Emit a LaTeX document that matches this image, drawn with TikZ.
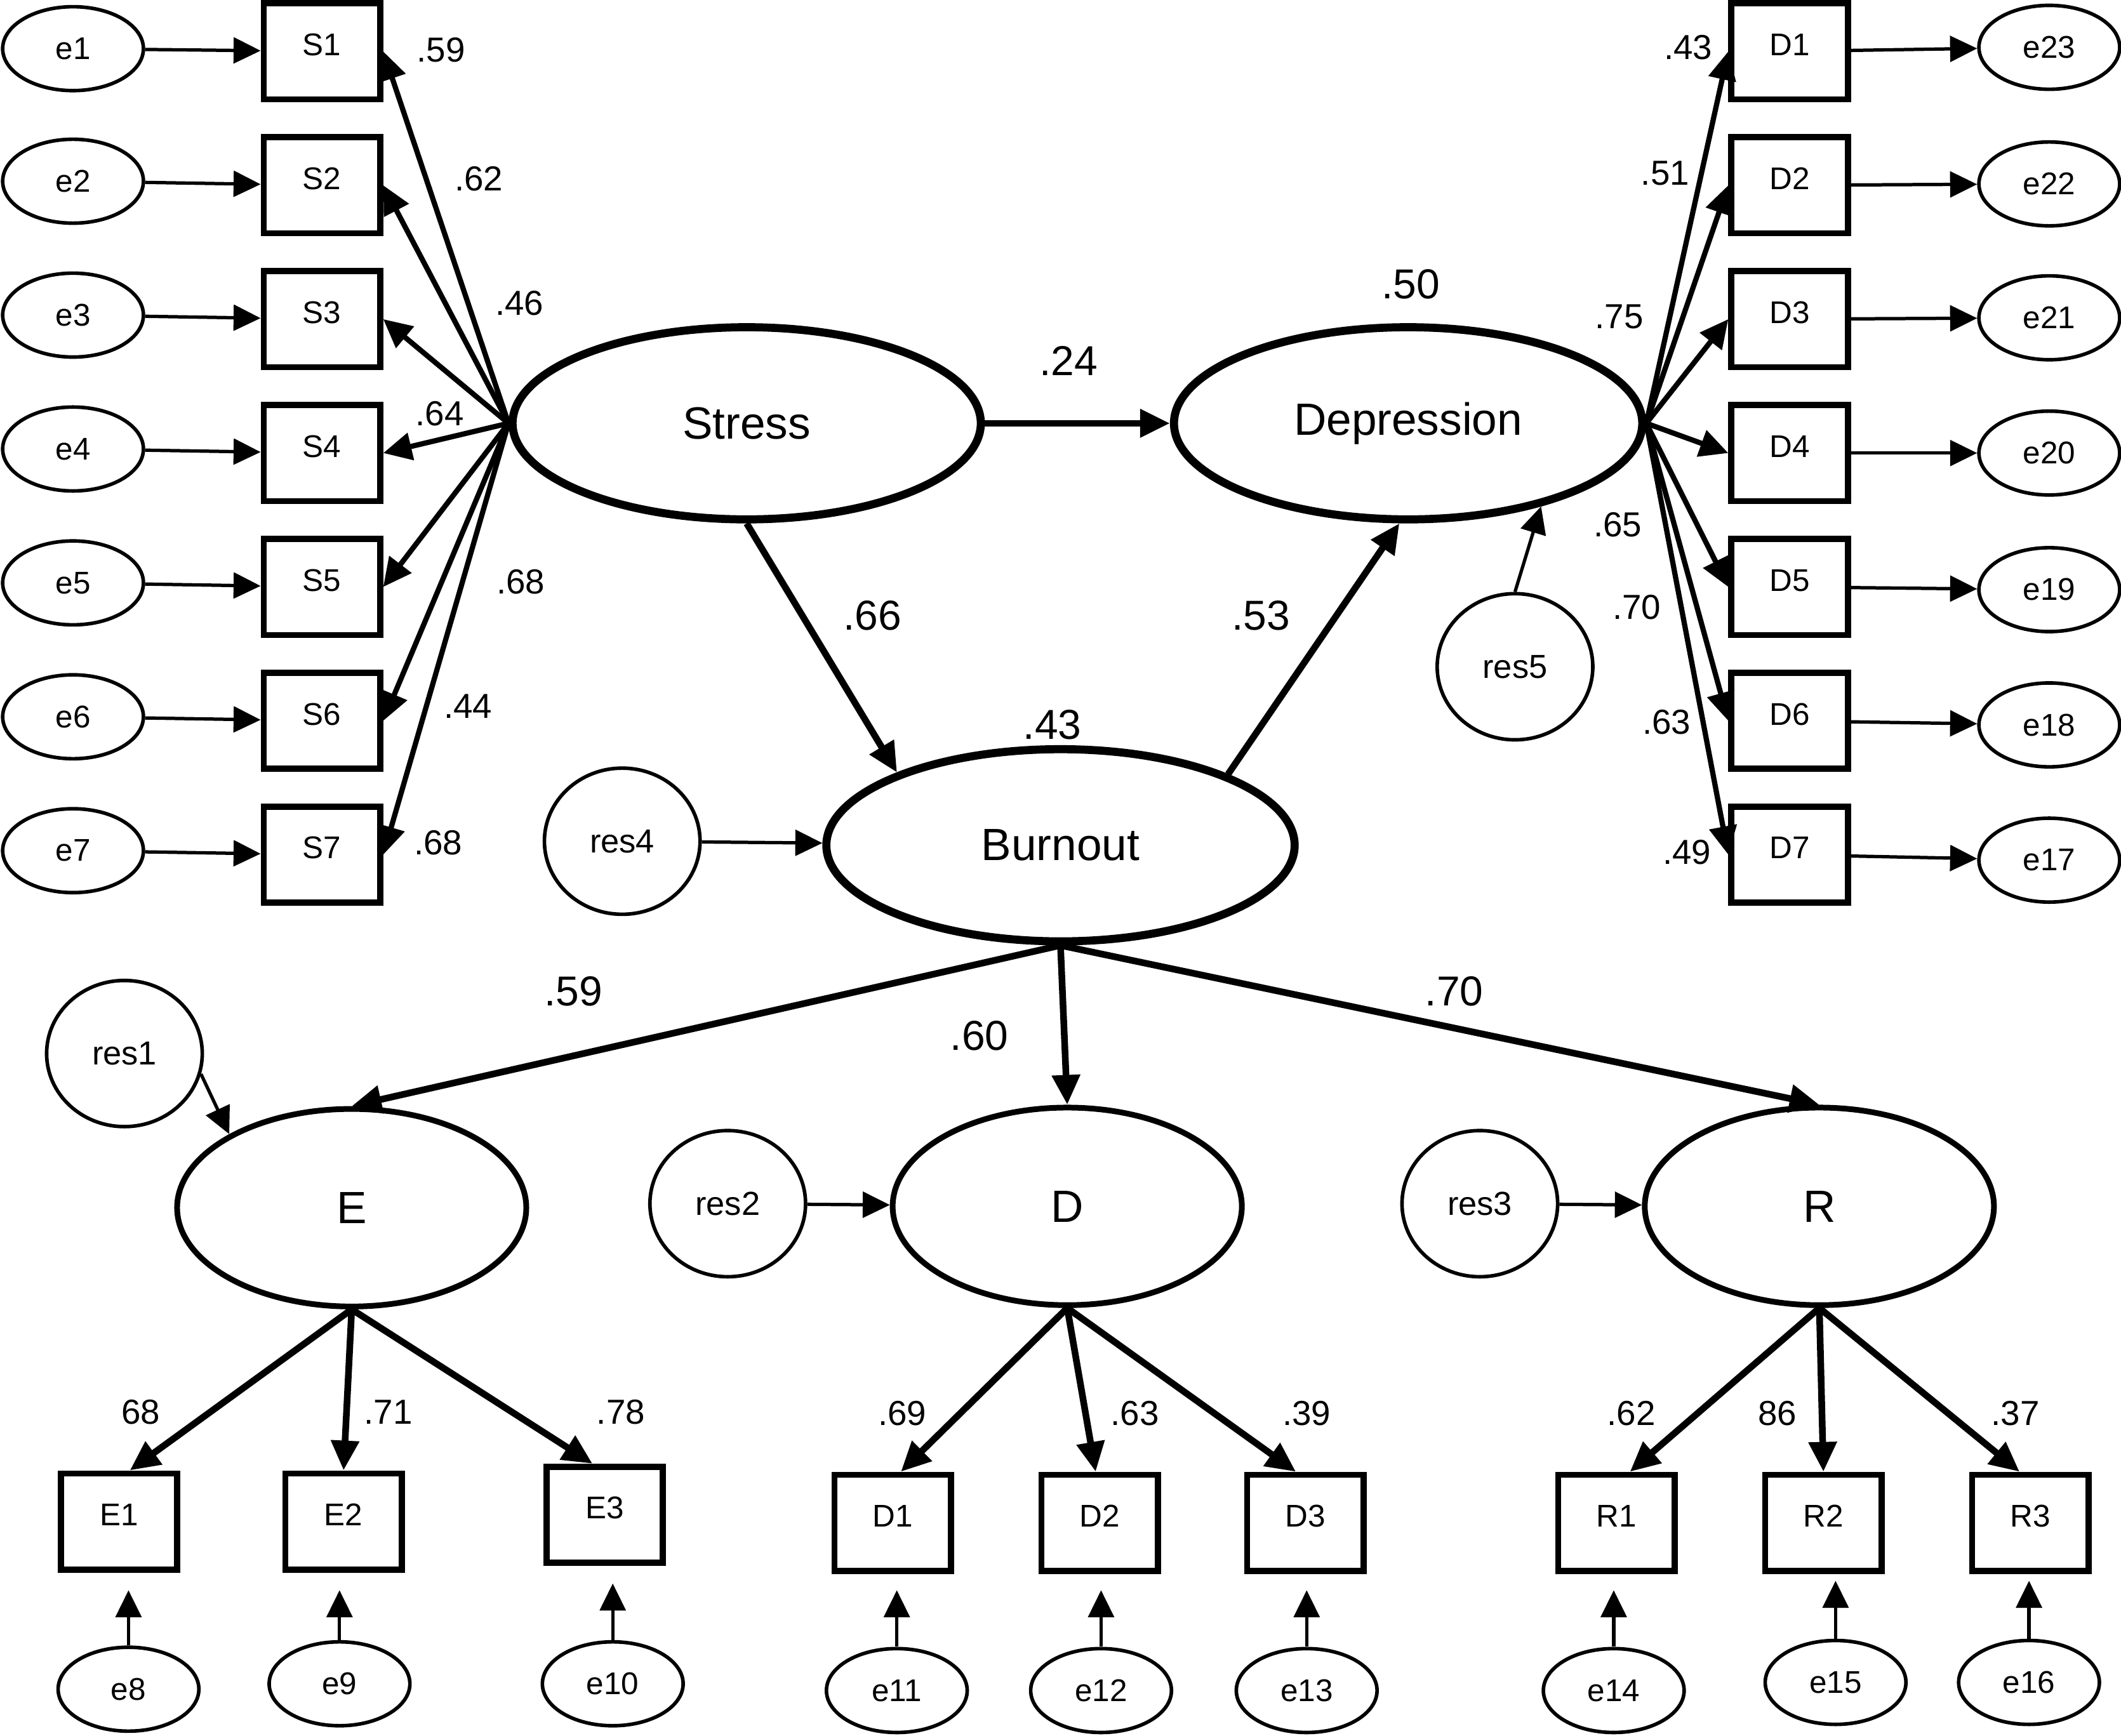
\documentclass[tikz,border=0pt]{standalone}
\usepackage{fontspec}
\setmainfont{Liberation Sans}
\usepackage{tikz}
\usetikzlibrary{calc}
\usetikzlibrary{shapes,arrows,arrows.meta,positioning}
\tikzstyle{obs} = [rectangle, draw, line width=1.3pt, text height=1.7mm, text depth=1.1mm,
    minimum width=0.86cm, minimum height=0.71cm, inner sep=0pt, font=\fontsize{6.6}{8}\selectfont]
\tikzstyle{err} = [ellipse, draw, line width=0.75pt,
    minimum width=1.04cm, minimum height=0.62cm, inner sep=0pt, font=\fontsize{6.6}{8}\selectfont]
\tikzstyle{res} = [ellipse, draw, line width=0.75pt,
    minimum width=1.15cm, minimum height=1.08cm, inner sep=0pt, font=\fontsize{7}{8}\selectfont]
\tikzstyle{latent} = [ellipse, draw, line width=1.7pt,
    minimum width=3.46cm, minimum height=1.42cm, inner sep=0pt, font=\fontsize{9.5}{11}\selectfont]
\tikzstyle{facet} = [ellipse, draw, line width=1.2pt,
    minimum width=2.58cm, minimum height=1.46cm, inner sep=0pt, font=\fontsize{9.5}{11}\selectfont]
\tikzstyle{line} = [draw, line width=0.7pt, -{Triangle[length=2mm,width=1.9mm]}]
\tikzstyle{loading} = [draw, line width=1.1pt, -{Triangle[length=2.1mm,width=2mm]}]
\tikzstyle{struct} = [draw, line width=1.4pt, -{Triangle[length=2.2mm,width=2mm]}]
\tikzstyle{coef} = [font=\fontsize{7.3}{9}\selectfont, inner sep=0pt]
\tikzstyle{bigcoef} = [font=\fontsize{8.8}{10}\selectfont, inner sep=0pt]

\begin{document}
\begin{tikzpicture}[x=0.01cm, y=-0.01cm]
\useasboundingbox (0,0) rectangle (1568,1283.6);
%Latent variables:
\node[latent](LV_stress) at (552,313){Stress};
\node[latent](LV_dep) at (1041,313){Depression};
\node[latent](LV_burn) at (784,625){Burnout};
\node[facet](LV_E) at (260,893){E};
\node[facet](LV_D) at (789,892){D};
\node[facet](LV_R) at (1345,892){R};
\node[res](RS_res1) at (92,779){res1};
\node[res](RS_res2) at (538,890){res2};
\node[res](RS_res3) at (1094,890){res3};
\node[res](RS_res4) at (460,622){res4};
\node[res](RS_res5) at (1120,493){res5};
%Stress indicators:
\node[obs](OB_S1) at (238,38){S1};
\node[obs](OB_S2) at (238,137){S2};
\node[obs](OB_S3) at (238,236){S3};
\node[obs](OB_S4) at (238,335){S4};
\node[obs](OB_S5) at (238,434){S5};
\node[obs](OB_S6) at (238,533){S6};
\node[obs](OB_S7) at (238,632){S7};
\node[err](ER_e1) at (54,36){e1};
\node[err](ER_e2) at (54,134){e2};
\node[err](ER_e3) at (54,233){e3};
\node[err](ER_e4) at (54,332){e4};
\node[err](ER_e5) at (54,431){e5};
\node[err](ER_e6) at (54,530){e6};
\node[err](ER_e7) at (54,629){e7};
\path(ER_e1)edge[line](OB_S1);
\path(ER_e2)edge[line](OB_S2);
\path(ER_e3)edge[line](OB_S3);
\path(ER_e4)edge[line](OB_S4);
\path(ER_e5)edge[line](OB_S5);
\path(ER_e6)edge[line](OB_S6);
\path(ER_e7)edge[line](OB_S7);
\path(LV_stress.west)edge[loading](OB_S1.east);
\path(LV_stress.west)edge[loading](OB_S2.east);
\path(LV_stress.west)edge[loading](OB_S3.east);
\path(LV_stress.west)edge[loading](OB_S4.east);
\path(LV_stress.west)edge[loading](OB_S5.east);
\path(LV_stress.west)edge[loading](OB_S6.east);
\path(LV_stress.west)edge[loading](OB_S7.east);
\node[coef](L_S1) at (326,37){.59};
\node[coef](L_S2) at (354,132){.62};
\node[coef](L_S3) at (384,224){.46};
\node[coef](L_S4) at (325,306){.64};
\node[coef](L_S5) at (385,430){.68};
\node[coef](L_S6) at (346,522){.44};
\node[coef](L_S7) at (324,623){.68};
%Depression indicators:
\node[obs](OB_D1) at (1323,38){D1};
\node[obs](OB_D2) at (1323,137){D2};
\node[obs](OB_D3) at (1323,236){D3};
\node[obs](OB_D4) at (1323,335){D4};
\node[obs](OB_D5) at (1323,434){D5};
\node[obs](OB_D6) at (1323,533){D6};
\node[obs](OB_D7) at (1323,632){D7};
\node[err](ER_e23) at (1515,35){e23};
\node[err](ER_e22) at (1515,136){e22};
\node[err](ER_e21) at (1515,235){e21};
\node[err](ER_e20) at (1515,335){e20};
\node[err](ER_e19) at (1515,436){e19};
\node[err](ER_e18) at (1515,536){e18};
\node[err](ER_e17) at (1515,636){e17};
\path(OB_D1)edge[line](ER_e23);
\path(OB_D2)edge[line](ER_e22);
\path(OB_D3)edge[line](ER_e21);
\path(OB_D4)edge[line](ER_e20);
\path(OB_D5)edge[line](ER_e19);
\path(OB_D6)edge[line](ER_e18);
\path(OB_D7)edge[line](ER_e17);
\path(LV_dep.east)edge[loading](OB_D1.west);
\path(LV_dep.east)edge[loading](OB_D2.west);
\path(LV_dep.east)edge[loading](OB_D3.west);
\path(LV_dep.east)edge[loading](OB_D4.west);
\path(LV_dep.east)edge[loading](OB_D5.west);
\path(LV_dep.east)edge[loading](OB_D6.west);
\path(LV_dep.east)edge[loading](OB_D7.west);
\node[coef](L_D1) at (1248,35){.43};
\node[coef](L_D2) at (1231,128){.51};
\node[coef](L_D3) at (1197,234){.75};
\node[coef](L_D4) at (1196,388){.65};
\node[coef](L_D5) at (1210,449){.70};
\node[coef](L_D6) at (1232,534){.63};
\node[coef](L_D7) at (1247,630){.49};
%Structural paths:
\path(LV_stress)edge[struct](LV_dep);
\path(LV_stress.south)edge[struct](LV_burn.156);
\path(LV_burn.23)edge[struct](LV_dep.265);
\path(RS_res4)edge[line](LV_burn);
\path(RS_res5.north)edge[line](LV_dep.-32);
\node[bigcoef](L_SD) at (790,267){.24};
\node[bigcoef](L_SB) at (645,455){.66};
\node[bigcoef](L_BD) at (932,455){.53};
\node[bigcoef](R2_dep) at (1043,210){.50};
\node[bigcoef](R2_burn) at (778,536){.43};
%Burnout facets:
\path(LV_burn.south)edge[struct](LV_E.north);
\path(LV_burn.south)edge[struct](LV_D.north);
\path(LV_burn.south)edge[struct](LV_R.north);
\path(RS_res1.-15)edge[line](LV_E.149);
\path(RS_res2)edge[line](LV_D);
\path(RS_res3)edge[line](LV_R);
\node[bigcoef](L_BE) at (424,733){.59};
\node[bigcoef](L_BDf) at (724,766){.60};
\node[bigcoef](L_BR) at (1075,733){.70};
%Facet indicators:
\node[obs](OB_E1) at (88,1125){E1};
\node[obs](OB_E2) at (254,1125){E2};
\node[obs](OB_E3) at (447,1120){E3};
\node[obs](OB_fD1) at (660,1126){D1};
\node[obs](OB_fD2) at (813,1126){D2};
\node[obs](OB_fD3) at (965,1126){D3};
\node[obs](OB_R1) at (1195,1126){R1};
\node[obs](OB_R2) at (1348,1126){R2};
\node[obs](OB_R3) at (1501,1126){R3};
\path(LV_E.south)edge[struct]([xshift=0.08cm]OB_E1.north);
\path(LV_E.south)edge[struct](OB_E2.north);
\path(LV_E.south)edge[struct]([xshift=-0.09cm]OB_E3.north);
\path(LV_D.south)edge[struct]([xshift=0.06cm]OB_fD1.north);
\path(LV_D.south)edge[struct]([xshift=-0.03cm]OB_fD2.north);
\path(LV_D.south)edge[struct]([xshift=-0.07cm]OB_fD3.north);
\path(LV_R.south)edge[struct]([xshift=0.1cm]OB_R1.north);
\path(LV_R.south)edge[struct](OB_R2.north);
\path(LV_R.south)edge[struct]([xshift=-0.08cm]OB_R3.north);
\node[coef](L_E1) at (104,1044){68};
\node[coef](L_E2) at (287,1044){.71};
\node[coef](L_E3) at (459,1044){.78};
\node[coef](L_fD1) at (667,1045){.69};
\node[coef](L_fD2) at (839,1045){.63};
\node[coef](L_fD3) at (966,1045){.39};
\node[coef](L_R1) at (1206,1045){.62};
\node[coef](L_R2) at (1314,1045){86};
\node[coef](L_R3) at (1490,1045){.37};
\node[err](ER_e8) at (95,1249){e8};
\node[err](ER_e9) at (251,1245){e9};
\node[err](ER_e10) at (453,1245){e10};
\node[err](ER_e11) at (663,1250){e11};
\node[err](ER_e12) at (814,1250){e12};
\node[err](ER_e13) at (966,1250){e13};
\node[err](ER_e14) at (1193,1250){e14};
\node[err](ER_e15) at (1357,1244){e15};
\node[err](ER_e16) at (1500,1244){e16};
\draw[line,shorten >=0.13cm](ER_e8.north)--(ER_e8.north|-OB_E1.south);
\draw[line,shorten >=0.13cm](ER_e9.north)--(ER_e9.north|-OB_E2.south);
\draw[line,shorten >=0.13cm](ER_e10.north)--(ER_e10.north|-OB_E3.south);
\draw[line,shorten >=0.12cm](ER_e11.north)--(ER_e11.north|-OB_fD1.south);
\draw[line,shorten >=0.12cm](ER_e12.north)--(ER_e12.north|-OB_fD2.south);
\draw[line,shorten >=0.12cm](ER_e13.north)--(ER_e13.north|-OB_fD3.south);
\draw[line,shorten >=0.12cm](ER_e14.north)--(ER_e14.north|-OB_R1.south);
\draw[line,shorten >=0.05cm](ER_e15.north)--(ER_e15.north|-OB_R2.south);
\draw[line,shorten >=0.05cm](ER_e16.north)--(ER_e16.north|-OB_R3.south);
\end{tikzpicture}
\end{document}
